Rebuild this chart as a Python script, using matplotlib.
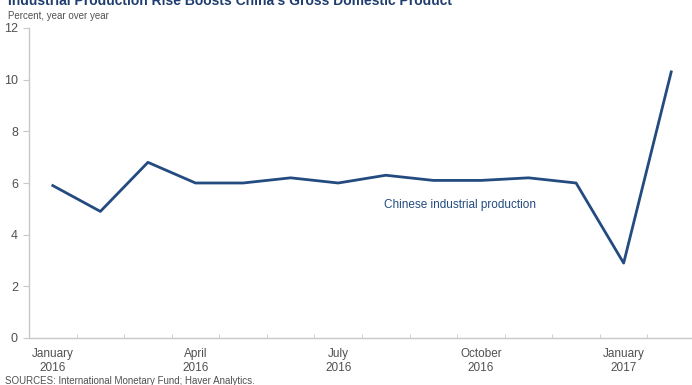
import matplotlib.pyplot as plt

plt.rcParams['font.family'] = ['Liberation Sans', 'DejaVu Sans']

months = ['Jan 2016', 'Feb 2016', 'Mar 2016', 'Apr 2016', 'May 2016', 'Jun 2016', 'Jul 2016',
          'Aug 2016', 'Sep 2016', 'Oct 2016', 'Nov 2016', 'Dec 2016', 'Jan 2017', 'Feb 2017']
production = [5.9, 4.9, 6.8, 6.0, 6.0, 6.2, 6.0, 6.3, 6.1, 6.1, 6.2, 6.0, 2.9, 10.3]
label_pos = [0, 3, 6, 9, 12]
label_text = ['January\n2016', 'April\n2016', 'July\n2016', 'October\n2016', 'January\n2017']

blue = '#234b80'
gray = '#c8c8c8'
text_gray = '#505050'

fig = plt.figure(figsize=(6.92, 3.85), dpi=100)
ax = fig.add_axes([29 / 692, 47 / 385, 666 / 692, 310 / 385])

x = list(range(len(months)))
ax.plot(x, production, color=blue, linewidth=2)
ax.text(8.55, 5.15, 'Chinese industrial production', color=blue, fontsize=8.5, ha='center', va='center')

ax.set_xlim(-0.5, 13.5)
ax.set_ylim(0, 12)
ax.set_yticks(range(0, 13, 2))
ax.set_xticks(label_pos)
ax.set_xticklabels(label_text, fontsize=8.5, color=text_gray, linespacing=1.25)
ax.set_xticks([i - 0.5 for i in range(len(months) + 1)], minor=True)
ax.tick_params(axis='x', which='major', length=0, pad=7)
ax.tick_params(axis='x', which='minor', direction='in', length=3, color=gray)
ax.tick_params(axis='y', length=4, color=gray, labelsize=9, labelcolor=text_gray, pad=4)

for s in ['top', 'right']:
    ax.spines[s].set_visible(False)
for s in ['left', 'bottom']:
    ax.spines[s].set_color(gray)
    ax.spines[s].set_linewidth(1)

fig.text(8 / 692, 1 - 1 / 385, "Industrial Production Rise Boosts China's Gross Domestic Product",
         fontsize=10, fontweight='bold', color='#1f3d6e', va='center', ha='left')
fig.text(8 / 692, 1 - 16 / 385, 'Percent, year over year', fontsize=7, color=text_gray, va='center', ha='left')
fig.text(5 / 692, 4 / 385, 'SOURCES: International Monetary Fund; Haver Analytics.', fontsize=7,
         color=text_gray, va='center', ha='left')

fig.savefig('out.png', dpi=100)
